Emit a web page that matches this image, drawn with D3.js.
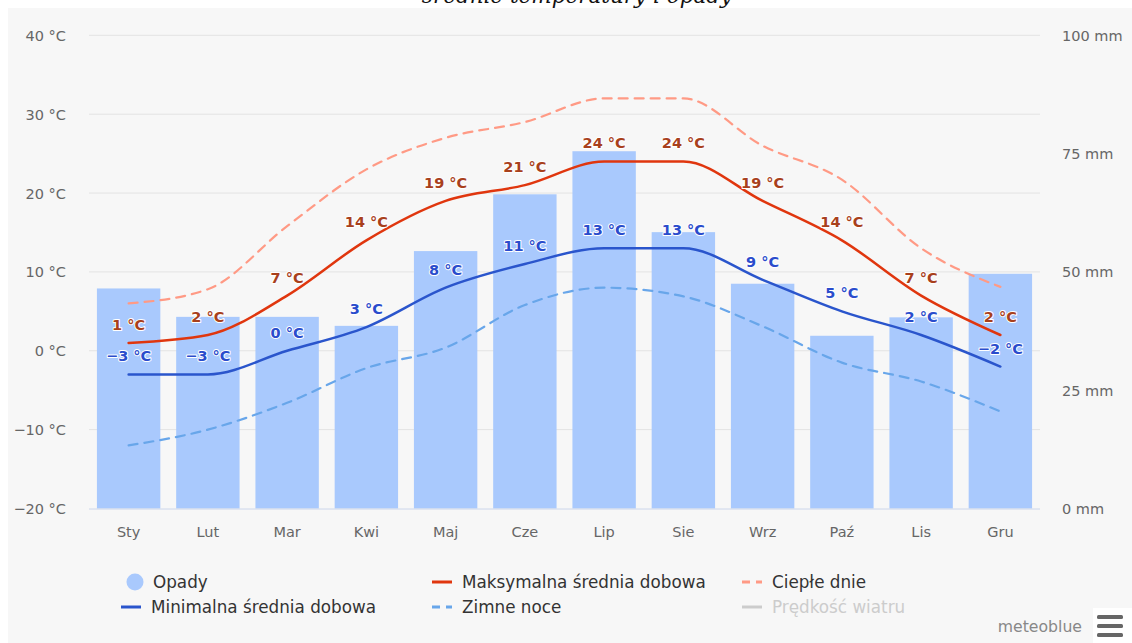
<!DOCTYPE html>
<html>
<head>
<meta charset="utf-8">
<script src="https://cdn.jsdelivr.net/npm/d3@7"></script>
<style>
  body { margin: 0; background: #fff; }
  svg { display: block; }
</style>
</head>
<body>
<div id="chart"></div>
<script>
"use strict";

// months and series
var months = ["Sty", "Lut", "Mar", "Kwi", "Maj", "Cze", "Lip", "Sie", "Wrz", "Paź", "Lis", "Gru"];
var opady = [46.5, 40.5, 40.5, 38.6, 54.4, 66.4, 75.5, 58.4, 47.5, 36.5, 40.4, 49.6];
var maxTemp = [1, 2, 7, 14, 19, 21, 24, 24, 19, 14, 7, 2];
var minTemp = [-3, -3, 0, 3, 8, 11, 13, 13, 9, 5, 2, -2];
var cieple = [6, 7.8, 15.8, 23, 27, 29, 32, 32, 26, 21.7, 13, 8.1];
var zimne = [-12, -10, -6.6, -2.2, 0.4, 5.8, 8, 6.9, 3.1, -1.5, -3.9, -7.7];
var tempTicks = [-20, -10, 0, 10, 20, 30, 40];
var mmTicks = [0, 25, 50, 75, 100];

var W = 1132, H = 643;
var font = "'DejaVu Sans', Verdana, sans-serif";

var svg = d3.select("#chart").append("svg")
  .attr("width", W)
  .attr("height", H);

// background panel
svg.append("rect").attr("x", 8).attr("y", 8).attr("width", W - 8).attr("height", H - 8).attr("fill", "#f7f7f7");

// title (cut off at the top, as in the original)
svg.append("text")
  .attr("x", 577).attr("y", 3)
  .attr("text-anchor", "middle")
  .style("font-family", "'DejaVu Serif', serif")
  .style("font-style", "italic")
  .style("font-size", "21.5px")
  .style("fill", "#111")
  .text("średnie temperatury i opady");

var x = d3.scaleBand().domain(months).range([89, 1040]).paddingInner(0.2).paddingOuter(0.1);
var yT = d3.scaleLinear().domain([-20, 40]).range([508.5, 35.3]);
var yP = d3.scaleLinear().domain([0, 100]).range([508.5, 35.3]);
var cx = function(d, i) { return x(months[i]) + x.bandwidth() / 2; };
var fmtT = function(d) { return (d < 0 ? "−" + (-d) : d) + " °C"; };

// grid
svg.append("g").selectAll("line")
  .data(tempTicks.filter(function(t) { return t > -20; }))
  .enter().append("line")
  .attr("x1", 89).attr("x2", 1040)
  .attr("y1", function(d) { return yT(d); })
  .attr("y2", function(d) { return yT(d); })
  .style("stroke", "#e3e3e3")
  .style("stroke-width", 1);

// bars
svg.append("g").selectAll("rect")
  .data(opady)
  .enter().append("rect")
  .attr("x", function(d, i) { return x(months[i]); })
  .attr("width", x.bandwidth())
  .attr("y", function(d) { return yP(d); })
  .attr("height", function(d) { return yP(0) - yP(d); })
  .style("fill", "#a9c9fd");

// x axis baseline
svg.append("line")
  .attr("x1", 89).attr("x2", 1040)
  .attr("y1", 509).attr("y2", 509)
  .style("stroke", "#ccd6eb");

// axes
var axL = svg.append("g").attr("transform", "translate(66,0)")
  .call(d3.axisLeft(yT).tickValues(tempTicks).tickSize(0).tickPadding(0).tickFormat(fmtT));
var axR = svg.append("g").attr("transform", "translate(1062,0)")
  .call(d3.axisRight(yP).tickValues(mmTicks).tickSize(0).tickPadding(0)
    .tickFormat(function(d) { return d + " mm"; }));
var axB = svg.append("g").attr("transform", "translate(0,532)")
  .call(d3.axisBottom(x).tickSize(0).tickPadding(0));
[axL, axR, axB].forEach(function(a) {
  a.select(".domain").remove();
  a.selectAll("text")
    .attr("dy", "0.35em")
    .style("font-family", font).style("font-size", "14.5px").style("fill", "#666");
});

// lines
var line = d3.line()
  .x(cx)
  .y(function(d) { return yT(d); })
  .curve(d3.curveMonotoneX);

function drawLine(data, color, width, dash) {
  svg.append("path")
    .datum(data)
    .attr("d", line)
    .style("fill", "none")
    .style("stroke", color)
    .style("stroke-width", width)
    .style("stroke-dasharray", dash || null)
    .style("stroke-linecap", "round");
}
drawLine(zimne, "#68a6ea", 2.2, "9,7");
drawLine(cieple, "#ff9a85", 2.2, "9,7");
drawLine(minTemp, "#2a55cc", 2.5);
drawLine(maxTemp, "#e0360e", 2.5);

// data labels
function labels(data, color) {
  svg.append("g").selectAll("text")
    .data(data)
    .enter().append("text")
    .attr("x", cx)
    .attr("y", function(d) { return yT(d) - 13; })
    .attr("text-anchor", "middle")
    .style("font-family", font)
    .style("font-size", "14.5px")
    .style("font-weight", "bold")
    .style("fill", color)
    .style("stroke", "#fff")
    .style("stroke-width", 2)
    .style("stroke-linejoin", "round")
    .style("paint-order", "stroke")
    .text(fmtT);
}
labels(maxTemp, "#a8401c");
labels(minTemp, "#2a4ccc");

// legend
var legend = [
  {name: "Opady", x: 135, y: 582, type: "circle", color: "#a9c9fd"},
  {name: "Maksymalna średnia dobowa", x: 432, y: 582, type: "line", color: "#e0360e"},
  {name: "Ciepłe dnie", x: 742, y: 582, type: "dash", color: "#ff9a85"},
  {name: "Minimalna średnia dobowa", x: 121, y: 607, type: "line", color: "#2a55cc"},
  {name: "Zimne noce", x: 432, y: 607, type: "dash", color: "#68a6ea"},
  {name: "Prędkość wiatru", x: 742, y: 607, type: "line", color: "#cccccc", hidden: true}
];
var lg = svg.append("g").selectAll("g").data(legend).enter().append("g");
lg.each(function(d) {
  var g = d3.select(this);
  var tx;
  if (d.type === "circle") {
    g.append("circle").attr("cx", d.x).attr("cy", d.y).attr("r", 8.5).style("fill", d.color);
    tx = d.x + 18;
  } else {
    g.append("line")
      .attr("x1", d.x).attr("x2", d.x + 20)
      .attr("y1", d.y).attr("y2", d.y)
      .style("stroke", d.color)
      .style("stroke-width", 3)
      .style("stroke-dasharray", d.type === "dash" ? "8,6" : null);
    tx = d.x + 30;
  }
  g.append("text")
    .attr("x", tx).attr("y", d.y).attr("dy", "0.35em")
    .style("font-family", font)
    .style("font-size", "16.8px")
    .style("fill", d.hidden ? "#cccccc" : "#333")
    .text(d.name);
});

// credits + menu
svg.append("text")
  .attr("x", 1082).attr("y", 627).attr("dy", "0.35em")
  .attr("text-anchor", "end")
  .style("font-family", font)
  .style("font-size", "15.7px")
  .style("fill", "#888")
  .text("meteoblue");
svg.append("rect").attr("x", 1093).attr("y", 608).attr("width", 39).attr("height", 35).style("fill", "#fff");
svg.append("g").selectAll("rect").data([615, 624, 633]).enter().append("rect")
  .attr("x", 1097).attr("y", function(d) { return d; })
  .attr("width", 26).attr("height", 4).attr("rx", 1.5)
  .style("fill", "#666");
</script>
</body>
</html>
